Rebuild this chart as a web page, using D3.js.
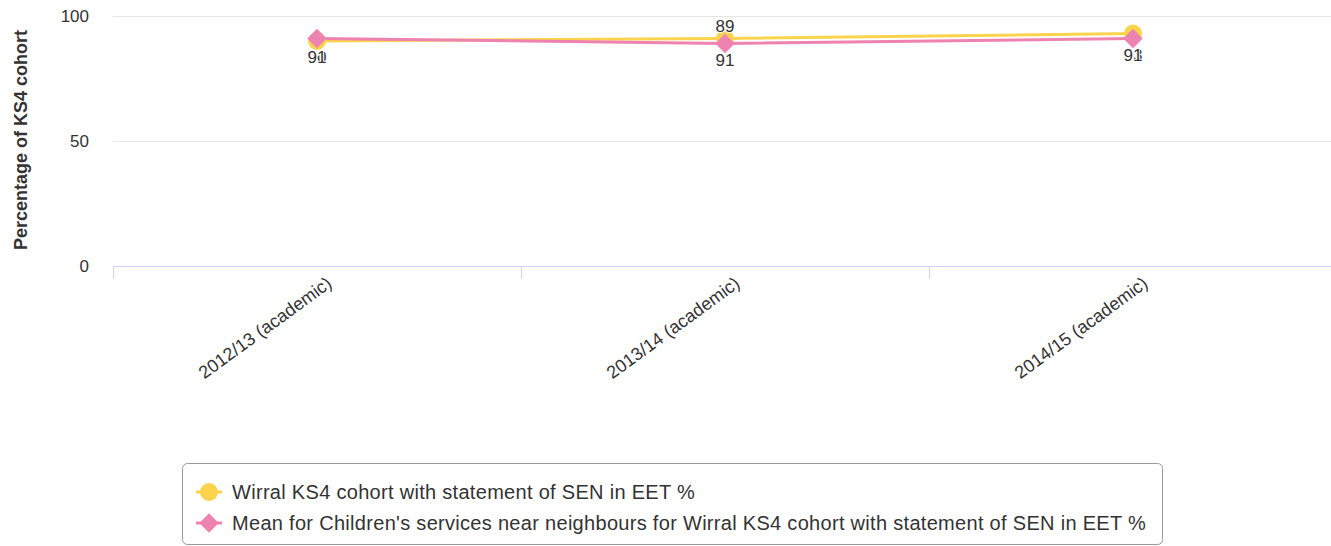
<!DOCTYPE html>
<html>
<head>
<meta charset="utf-8">
<script src="https://cdn.jsdelivr.net/npm/d3@7"></script>
<style>
  body { margin: 0; background: #fff; }
  text { font-family: "Liberation Sans", Arial, sans-serif; }
</style>
</head>
<body>
<div id="chart"></div>
<script>
// Data
var categories  = ["2012/13 (academic)", "2013/14 (academic)", "2014/15 (academic)"];
var wirral      = [90, 91, 93];
var neighbours  = [91, 89, 91];
var yTicks      = [0, 50, 100];
var seriesNames = [
    "Wirral KS4 cohort with statement of SEN in EET %",
    "Mean for Children's services near neighbours for Wirral KS4 cohort with statement of SEN in EET %"
];
// label side per point: "below" or "above"
var wirralSide     = ["below", "below", "below"];
var neighbourSide  = ["below", "above", "below"];

var width  = 1331;
var height = 546;
var yellow = "#fcd34d";
var pink   = "#ee82b0";

var svg = d3.select("#chart").append("svg")
    .attr("width", width)
    .attr("height", height);

var x = d3.scaleBand()
    .domain(categories)
    .range([113, 1337]);

var y = d3.scaleLinear()
    .domain([0, 100])
    .range([266, 16]);

// grid
svg.append("g")
    .selectAll("line")
    .data(yTicks.filter(d => d > 0))
    .enter().append("line")
    .attr("x1", 113).attr("x2", width)
    .attr("y1", d => y(d) + 0.5).attr("y2", d => y(d) + 0.5)
    .style("stroke", "#e6e6e6");

// y labels
svg.append("g")
    .selectAll("text")
    .data(yTicks)
    .enter().append("text")
    .attr("x", 89)
    .attr("y", d => y(d) + 6)
    .attr("text-anchor", "end")
    .style("font-size", "17px")
    .style("fill", "#333")
    .text(d => d);

// y title
svg.append("text")
    .attr("transform", "translate(27," + (y(50) - 1) + ") rotate(-90)")
    .attr("text-anchor", "middle")
    .style("font-size", "18px")
    .style("font-weight", "bold")
    .style("fill", "#333")
    .text("Percentage of KS4 cohort");

// x axis
svg.append("line")
    .attr("x1", 113).attr("x2", width)
    .attr("y1", 266.5).attr("y2", 266.5)
    .style("stroke", "#ccd6eb");

svg.append("g")
    .selectAll("line")
    .data(categories)
    .enter().append("line")
    .attr("x1", d => x(d) + 0.5).attr("x2", d => x(d) + 0.5)
    .attr("y1", 266).attr("y2", 279)
    .style("stroke", "#ccd6eb");

svg.append("g")
    .selectAll("text")
    .data(categories)
    .enter().append("text")
    .attr("transform", d => "translate(" + (x(d) + x.bandwidth() / 2 + 16) + ",286) rotate(-36)")
    .attr("text-anchor", "end")
    .style("font-size", "18px")
    .style("fill", "#333")
    .text(d => d);

var cx = d => x(d) + x.bandwidth() / 2;

var line1 = d3.line().x((d, i) => cx(categories[i])).y(d => y(d));

svg.append("path")
    .datum(wirral)
    .attr("d", line1)
    .style("fill", "none")
    .style("stroke", yellow)
    .style("stroke-width", 3);

svg.append("path")
    .datum(neighbours)
    .attr("d", line1)
    .style("fill", "none")
    .style("stroke", pink)
    .style("stroke-width", 3);

svg.append("g")
    .selectAll("circle")
    .data(wirral)
    .enter().append("circle")
    .attr("cx", (d, i) => cx(categories[i]))
    .attr("cy", d => y(d))
    .attr("r", 9)
    .style("fill", yellow);

var diamond = d3.symbol().type(d3.symbolDiamond2).size(240);

svg.append("g")
    .selectAll("path")
    .data(neighbours)
    .enter().append("path")
    .attr("d", diamond)
    .attr("transform", (d, i) => "translate(" + cx(categories[i]) + "," + y(d) + ")")
    .style("fill", pink);

// data labels
function labelY(i, side) {
    var lo = Math.min(wirral[i], neighbours[i]);
    var hi = Math.max(wirral[i], neighbours[i]);
    return side === "below" ? y(lo) + 22 : y(hi) - 7;
}

[[wirral, wirralSide], [neighbours, neighbourSide]].forEach(function (s) {
    svg.append("g")
        .selectAll("text")
        .data(s[0])
        .enter().append("text")
        .attr("x", (d, i) => cx(categories[i]))
        .attr("y", (d, i) => labelY(i, s[1][i]))
        .attr("text-anchor", "middle")
        .style("font-size", "17px")
        .style("fill", "#333")
        .style("stroke", "#fff")
        .style("stroke-width", 2)
        .style("paint-order", "stroke")
        .text(d => d);
});

// legend
svg.append("rect")
    .attr("x", 182.5).attr("y", 463.5)
    .attr("width", 980).attr("height", 81)
    .attr("rx", 5)
    .style("fill", "#fff")
    .style("stroke", "#999");

var legend = svg.append("g")
    .selectAll("g")
    .data(seriesNames)
    .enter().append("g")
    .attr("transform", (d, i) => "translate(196," + (492 + i * 31) + ")");

legend.append("line")
    .attr("x1", 0).attr("x2", 26)
    .style("stroke", (d, i) => i === 0 ? yellow : pink)
    .style("stroke-width", 3);

legend.filter((d, i) => i === 0).append("circle")
    .attr("cx", 13).attr("r", 9)
    .style("fill", yellow);

legend.filter((d, i) => i === 1).append("path")
    .attr("d", diamond)
    .attr("transform", "translate(13,0)")
    .style("fill", pink);

legend.append("text")
    .attr("x", 36)
    .attr("y", 7)
    .style("font-size", "20px")
    .style("letter-spacing", "0.3px")
    .style("fill", "#333")
    .text(d => d);
</script>
</body>
</html>
